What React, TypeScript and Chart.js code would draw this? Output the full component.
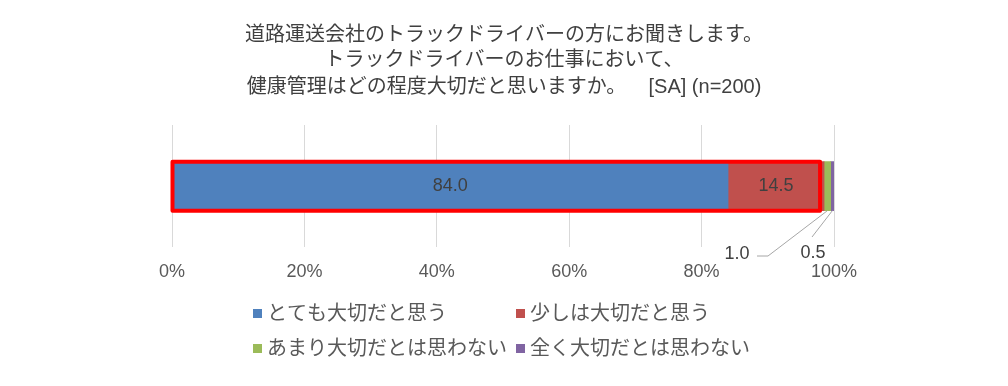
import React, { useEffect, useRef } from "react";
import { Chart, registerables } from "chart.js";

Chart.register(...registerables);

const titleLines = [
  "道路運送会社のトラックドライバーの方にお聞きします。",
  "トラックドライバーのお仕事において、",
  "健康管理はどの程度大切だと思いますか。    [SA] (n=200)",
];
const categories = [""];
const seriesNames = ["とても大切だと思う", "少しは大切だと思う", "あまり大切だとは思わない", "全く大切だとは思わない"];
const seriesValues = [[84.0], [14.5], [1.0], [0.5]];
const seriesColors = ["#4F81BD", "#C0504D", "#9BBB59", "#8064A2"];
const tickValues = [0, 20, 40, 60, 80, 100];

const FONT = "'Liberation Sans', Arial, 'Noto Sans CJK JP', sans-serif";

const decorPlugin = {
  id: "decor",
  afterDraw(chart: any) {
    const ctx = chart.ctx;
    ctx.save();

    // Title
    ctx.fillStyle = "#404040";
    ctx.font = `20px ${FONT}`;
    ctx.textAlign = "center";
    ctx.textBaseline = "middle";
    const tY = [27, 52, 79];
    titleLines.forEach((t, i) => ctx.fillText(t, chart.width / 2, tY[i]));

    // data labels
    const meta0 = chart.getDatasetMeta(0).data[0];
    const meta1 = chart.getDatasetMeta(1).data[0];
    const meta2 = chart.getDatasetMeta(2).data[0];
    const meta3 = chart.getDatasetMeta(3).data[0];
    ctx.font = `18px ${FONT}`;
    ctx.fillStyle = "#404040";
    [meta0, meta1].forEach((el: any, i: number) => {
      const cx = (el.base + el.x) / 2;
      ctx.fillText(seriesValues[i][0].toFixed(1), cx, el.y);
    });

    const barBottom = meta0.y + meta0.height / 2;
    const barTop = meta0.y - meta0.height / 2;

    // leader lines and small labels
    ctx.strokeStyle = "#A6A6A6";
    ctx.lineWidth = 1;
    const g = meta2 as any;
    const gx = (g.base + g.x) / 2;
    ctx.beginPath();
    ctx.moveTo(749, 248);
    ctx.lineTo(760, 248);
    ctx.lineTo(gx, barBottom);
    ctx.stroke();
    ctx.fillStyle = "#404040";
    ctx.fillText(seriesValues[2][0].toFixed(1), 729, 246);

    const p = meta3 as any;
    const px = (p.base + p.x) / 2;
    ctx.beginPath();
    ctx.moveTo(804, 229);
    ctx.lineTo(px, barBottom);
    ctx.stroke();
    ctx.fillText(seriesValues[3][0].toFixed(1), 805, 245);

    // red highlight box
    ctx.strokeStyle = "#FF0000";
    ctx.lineWidth = 4;
    ctx.lineJoin = "round";
    const bx0 = (meta0 as any).base;
    const bx1 = (meta1 as any).x - 4;
    ctx.beginPath();
    ctx.rect(bx0, barTop, bx1 - bx0, barBottom - barTop);
    ctx.stroke();

    // legend
    ctx.font = `20px ${FONT}`;
    ctx.textAlign = "left";
    const colX = [245, 508];
    const rowY = [305.5, 340.5];
    seriesNames.forEach((name, i) => {
      const x = colX[i % 2];
      const y = rowY[Math.floor(i / 2)];
      ctx.fillStyle = seriesColors[i];
      ctx.fillRect(x, y - 4.5, 9, 9);
      ctx.fillStyle = "#595959";
      ctx.fillText(name, x + 14, y + 1);
    });

    ctx.restore();
  },
};

export default function App() {
  const ref = useRef<HTMLCanvasElement>(null);
  useEffect(() => {
    if (!ref.current) return;
    const chart = new Chart(ref.current, {
      type: "bar",
      data: {
        labels: categories,
        datasets: seriesNames.map((n, i) => ({
          label: n,
          data: seriesValues[i],
          backgroundColor: seriesColors[i],
          borderWidth: 0,
          barThickness: 49,
        })),
      },
      options: {
        indexAxis: "y",
        responsive: false,
        animation: false,
        layout: { padding: { left: 164, right: 166, top: 117, bottom: 81 } },
        plugins: {
          legend: { display: false },
          title: { display: false },
          tooltip: { enabled: false },
        },
        scales: {
          x: {
            stacked: true,
            min: 0,
            max: 100,
            afterBuildTicks: (axis: any) => {
              axis.ticks = tickValues.map((v) => ({ value: v }));
            },
            grid: { color: "#D9D9D9", drawTicks: false },
            border: { display: false },
            ticks: {
              padding: 14,
              color: "#595959",
              font: { size: 18, family: FONT },
              callback: (v: any) => v + "%",
            },
          },
          y: { stacked: true, display: false },
        },
      },
      plugins: [decorPlugin],
    });
    return () => chart.destroy();
  }, []);
  return (
    <div style={{ width: 992, height: 370 }}>
      <canvas ref={ref} width={992} height={370} />
    </div>
  );
}
